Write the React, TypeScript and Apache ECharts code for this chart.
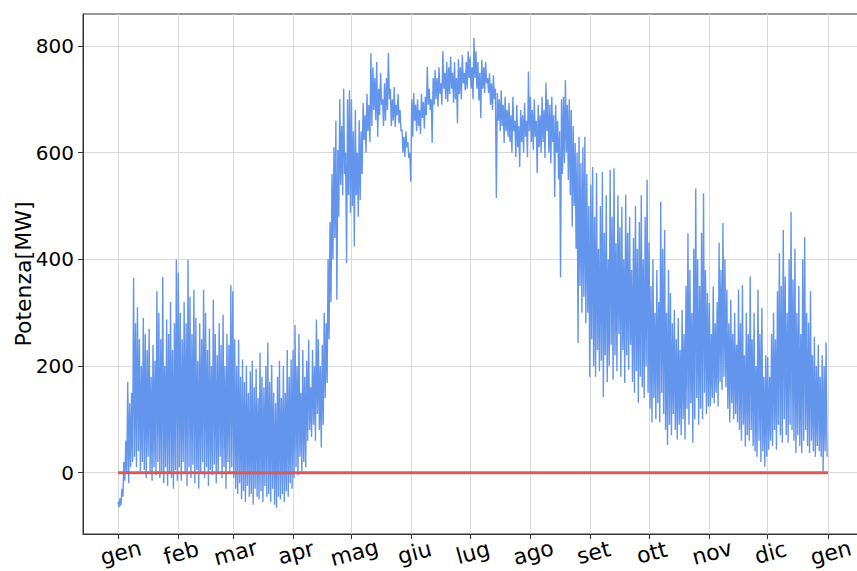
import React, { useEffect, useRef } from "react";
import * as echarts from "echarts";

const monthLabels = ["gen", "feb", "mar", "apr", "mag", "giu", "lug", "ago", "set", "ott", "nov", "dic", "gen"];
const monthStarts = [0, 31, 59, 90, 120, 151, 181, 212, 243, 273, 304, 334, 365];
const yTicks = [0, 200, 400, 600, 800];

// two readings per day (alternating peaks / troughs), one array per month
const genVals = [-55,-65,-48,-62,-30,-45,20,-15,60,0,170,-20,130,10,150,20,365,30,280,10,310,40,250,0,200,20,290,5,260,-10,230,30,270,0,180,-15,240,10,210,-5,340,20,300,-10,250,0,367,-20,200,10,287,-25,260,0,320,-10,230,-30,280,5,399,-15];
const febVals = [375,10,300,-15,250,20,320,0,280,-25,399,10,330,-10,260,15,343,-20,290,5,210,-30,280,0,250,20,343,-10,300,10,230,-25,270,5,200,-5,324,15,260,-20,220,0,280,30,240,-10,296,10,200,-30,260,20,240,0,352,10];
const marVals = [340,-10,250,-30,200,-40,249,-20,180,-50,212,-35,170,-55,200,-25,150,-45,190,-40,210,-60,160,-30,195,-45,140,-50,225,-35,180,-55,160,-25,200,-45,244,-40,170,-55,202,-30,150,-60,130,-66,180,-45,210,-50,140,-40,200,-55,150,-35,230,-45,180,-20,212,-30];
const aprVals = [230,-10,277,10,200,-5,260,30,150,0,230,20,180,10,210,60,249,80,160,67,230,90,200,60,287,110,250,80,200,47,240,90,300,140,280,168,400,250,470,320,560,400,610,440,660,324,605,480,700,540,650,520,720,560,600,393,700,520,717,487];
const magVals = [700,500,640,424,680,520,600,480,661,511,640,560,693,624,670,600,710,640,690,620,787,650,760,680,740,661,770,630,720,670,750,690,700,650,730,660,740,680,787,700,720,650,700,660,723,648,690,670,710,655,680,640,643,600,630,592,640,610,620,590,600,545];
const giuVals = [700,630,712,660,690,640,700,650,680,635,710,665,695,645,705,670,761,690,720,680,700,618,740,690,755,700,740,686,760,710,730,690,790,720,750,700,770,695,760,710,780,720,750,693,770,700,740,655,775,710,760,700,783,730,750,717,770,720,790,740];
const lugVals = [780,720,760,700,815,740,790,720,770,698,750,665,774,720,760,712,770,730,740,712,749,690,730,680,745,700,720,515,712,660,700,640,717,650,690,618,705,640,680,630,693,620,670,600,705,640,660,592,690,610,650,573,680,620,670,600,693,630,660,592,752,640];
const agoVals = [705,620,680,605,700,630,660,562,690,610,670,600,705,620,680,590,731,640,700,600,690,580,705,620,670,517,690,600,660,550,640,366,700,560,705,580,736,600,690,549,700,520,680,461,650,500,618,420,600,243,630,350,580,300,610,330,630,280,560,300,500,180];
const setVals = [540,250,573,200,480,180,562,230,420,190,500,210,564,142,450,220,520,170,400,200,568,240,480,174,571,220,430,190,520,260,460,180,498,230,400,168,521,220,450,193,480,240,380,170,440,150,500,190,420,131,470,180,520,160,400,140,480,200,549,150];
const ottVals = [431,120,350,94,400,140,300,100,380,130,320,94,508,150,420,110,455,80,300,52,380,90,337,70,280,110,305,80,250,62,290,90,230,70,305,100,260,62,350,120,449,90,380,130,300,56,420,100,533,140,400,90,350,120,450,100,524,150,380,110,337,124];
const novVals = [318,124,260,140,349,130,280,150,320,124,431,170,380,155,468,180,400,160,343,120,280,94,324,130,260,100,300,110,240,94,343,80,280,60,352,90,220,49,300,70,260,60,368,80,250,50,300,40,200,30,343,60,260,20,309,40,180,11,220,30];
const dicVals = [217,43,180,60,260,50,300,80,250,43,340,90,412,70,350,56,455,100,368,70,300,56,400,90,489,80,362,60,420,37,300,70,350,50,260,37,400,60,442,80,300,50,281,37,340,60,220,40,255,30,200,50,240,40,180,30,220,2,200,40,244,30];

const monthValues = [genVals, febVals, marVals, aprVals, magVals, giuVals, lugVals, agoVals, setVals, ottVals, novVals, dicVals];
const baseline = [[0, 0], [365, 0]];

export default function App() {
  const ref = useRef<HTMLDivElement>(null);
  useEffect(() => {
    if (!ref.current) return;
    const chart = echarts.init(ref.current, undefined, { renderer: "svg" });
    const powerData: [number, number][] = [];
    monthValues.forEach((vals, m) => {
      vals.forEach((v, i) => powerData.push([monthStarts[m] + i * 0.5, v]));
    });
    const font = "DejaVu Sans";
    const gridColor = "#d9d9d9";
    chart.setOption({
      animation: false,
      grid: {
        left: 83, right: -7, top: 14, bottom: 37,
        show: true, borderColor: "#333", borderWidth: 1,
        containLabel: false, outerBoundsMode: "none",
      },
      xAxis: {
        type: "value",
        min: -18,
        max: 383.5,
        splitLine: { show: true, lineStyle: { color: gridColor, width: 1 } },
        axisLine: { show: true, onZero: false, lineStyle: { color: "#333", width: 1 } },
        axisTick: { show: true, length: 5, lineStyle: { color: "#333" }, customValues: monthStarts },
        axisLabel: {
          customValues: monthStarts,
          formatter: (v: number) => monthLabels[monthStarts.indexOf(Math.round(v))] ?? "",
          rotate: 15,
          align: "center",
          verticalAlign: "top",
          margin: 8,
          fontSize: 22,
          fontFamily: font,
          color: "#000",
        },
      },
      yAxis: {
        type: "value",
        min: -115,
        max: 860,
        name: "Potenza[MW]",
        nameLocation: "middle",
        nameGap: 49,
        nameMoveOverlap: false,
        nameTextStyle: { fontSize: 22, fontFamily: font, color: "#000" },
        splitLine: { show: true, lineStyle: { color: gridColor, width: 1 } },
        axisLine: { show: true, onZero: false, lineStyle: { color: "#333", width: 1 } },
        axisTick: { show: true, length: 5, lineStyle: { color: "#333" }, customValues: yTicks },
        axisLabel: { customValues: yTicks, margin: 9, fontSize: 20, fontFamily: font, color: "#000" },
      },
      series: [
        {
          type: "line",
          data: powerData,
          z: 2,
          showSymbol: false,
          lineStyle: { color: "#6495ED", width: 1.4 },
          itemStyle: { color: "#6495ED" },
        },
        {
          type: "line",
          data: baseline,
          z: 3,
          showSymbol: false,
          lineStyle: { color: "#d65a5a", width: 3 },
          itemStyle: { color: "#d65a5a" },
        },
      ],
    });
    return () => chart.dispose();
  }, []);
  return <div ref={ref} style={{ position: "absolute", left: 0, top: 0, width: 857, height: 571 }} />;
}
